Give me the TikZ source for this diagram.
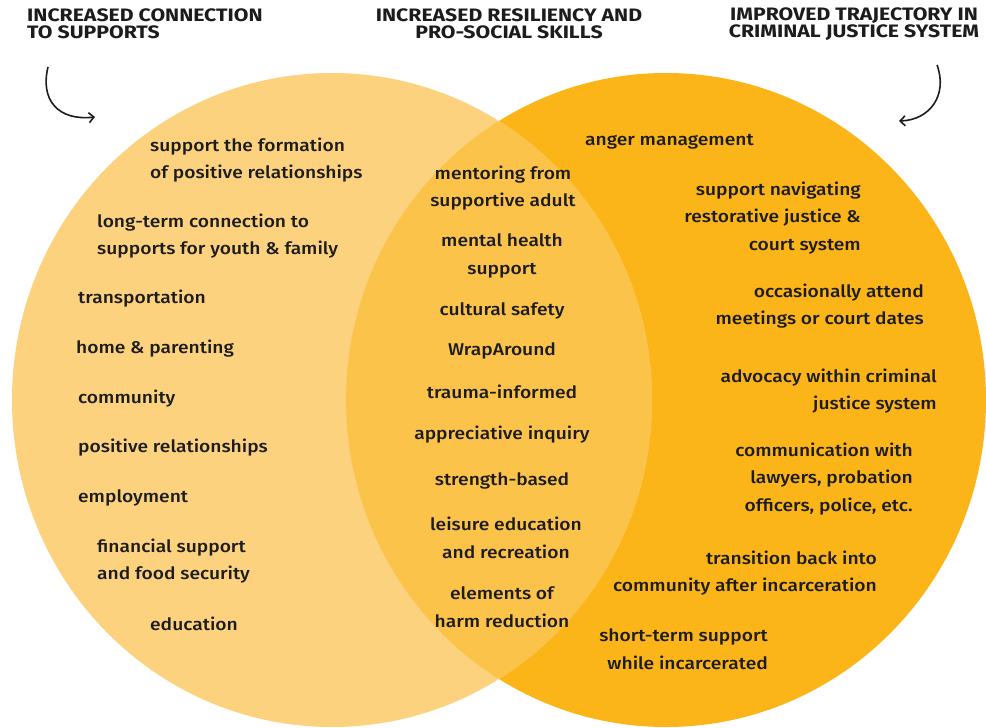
\documentclass[tikz,border=0pt]{standalone}
\usepackage{fontspec}
\setmainfont{Fira Sans}[UprightFont={* Medium}, BoldFont={* Bold}, FakeStretch=1.13]
\newfontfamily\headfont{Fira Sans}[UprightFont={* Bold}, FakeStretch=1.18]
\usetikzlibrary{arrows.meta}
\definecolor{leftfill}{HTML}{FCD27F}
\definecolor{rightfill}{HTML}{FBB519}
\definecolor{midfill}{HTML}{FCC34B}
\definecolor{ink}{HTML}{1C1C1C}

\begin{document}
\begin{tikzpicture}[x=1pt, y=-1pt]
\tikzset{item/.style={inner sep=0pt, yshift=-2pt, text=ink, font=\fontsize{17}{27.5}\selectfont},
         itemL/.style={item, anchor=west, align=left},
         itemC/.style={item, align=center},
         itemR/.style={item, anchor=east, align=right},
         head/.style={inner sep=0pt, text=ink, align=center, font=\headfont\fontsize{18}{17}\selectfont},
         curlarrow/.style={line width=1.6pt, draw=ink, -{Straight Barb[length=5pt, width=10pt]}}}
\useasboundingbox (0,0) rectangle (986,728);
\begin{scope}
\clip (0,0) rectangle (986,728);
\fill[rightfill] (666,400) ellipse [x radius=320pt, y radius=327pt];
\fill[leftfill] (332,400) ellipse [x radius=320pt, y radius=327pt];
\clip (332,400) ellipse [x radius=320pt, y radius=327pt];
\fill[midfill] (666,400) ellipse [x radius=320pt, y radius=327pt];
\end{scope}
% headings
\node[head, anchor=west, align=left] (HL) at (27,24) {INCREASED CONNECTION\\TO SUPPORTS};
\node[head] (HM) at (509,24) {INCREASED RESILIENCY AND\\PRO-SOCIAL SKILLS};
\node[head] (HR) at (854,24) {IMPROVED TRAJECTORY IN\\CRIMINAL JUSTICE SYSTEM};
\coordinate (AL1) at (48,67);
\coordinate (AL2) at (95,117);
\coordinate (AR1) at (937,65);
\coordinate (AR2) at (899,121);
\draw[curlarrow] (AL1) .. controls (40,100) and (58,121) .. (AL2);
\draw[curlarrow] (AR1) .. controls (948,95) and (930,120) .. (AR2);
% left circle
\node[itemL] (L1) at (150,158) {support the formation\\of positive relationships};
\node[itemL] (L2) at (97,234) {long-term connection to\\supports for youth \& family};
\node[itemL] (L3) at (78,297) {transportation};
\node[itemL] (L4) at (76,347) {home \& parenting};
\node[itemL] (L5) at (78,397) {community};
\node[itemL] (L6) at (78,446) {positive relationships};
\node[itemL] (L7) at (78,496) {employment};
\node[itemL] (L8) at (97,559) {financial support\\and food security};
\node[itemL] (L9) at (150,622) {education};
% overlap
\node[itemC] (M1) at (503,186) {mentoring from\\supportive adult};
\node[itemC] (M2) at (502,254) {mental health\\support};
\node[itemC] (M3) at (502,309) {cultural safety};
\node[itemC] (M4) at (502,349) {WrapAround};
\node[itemC] (M5) at (502,390) {trauma-informed};
\node[itemC] (M6) at (502,433) {appreciative inquiry};
\node[itemC] (M7) at (502,479) {strength-based};
\node[itemC] (M8) at (506,536) {leisure education\\and recreation};
\node[itemC] (M9) at (502,605) {elements of\\harm reduction};
% right circle
\node[itemL] (R1) at (585,140) {anger management};
\node[itemR] (R2) at (861,216) {support navigating\\restorative justice \&\\court system};
\node[itemR] (R3) at (924,304) {occasionally attend\\meetings or court dates};
\node[itemR] (R4) at (937,389) {advocacy within criminal\\justice system};
\node[itemR] (R5) at (913,477) {communication with\\lawyers, probation\\officers, police, etc.};
\node[itemR] (R6) at (877,571) {transition back into\\community after incarceration};
\node[itemR] (R7) at (768,647) {short-term support\\while incarcerated};
\end{tikzpicture}
\end{document}
